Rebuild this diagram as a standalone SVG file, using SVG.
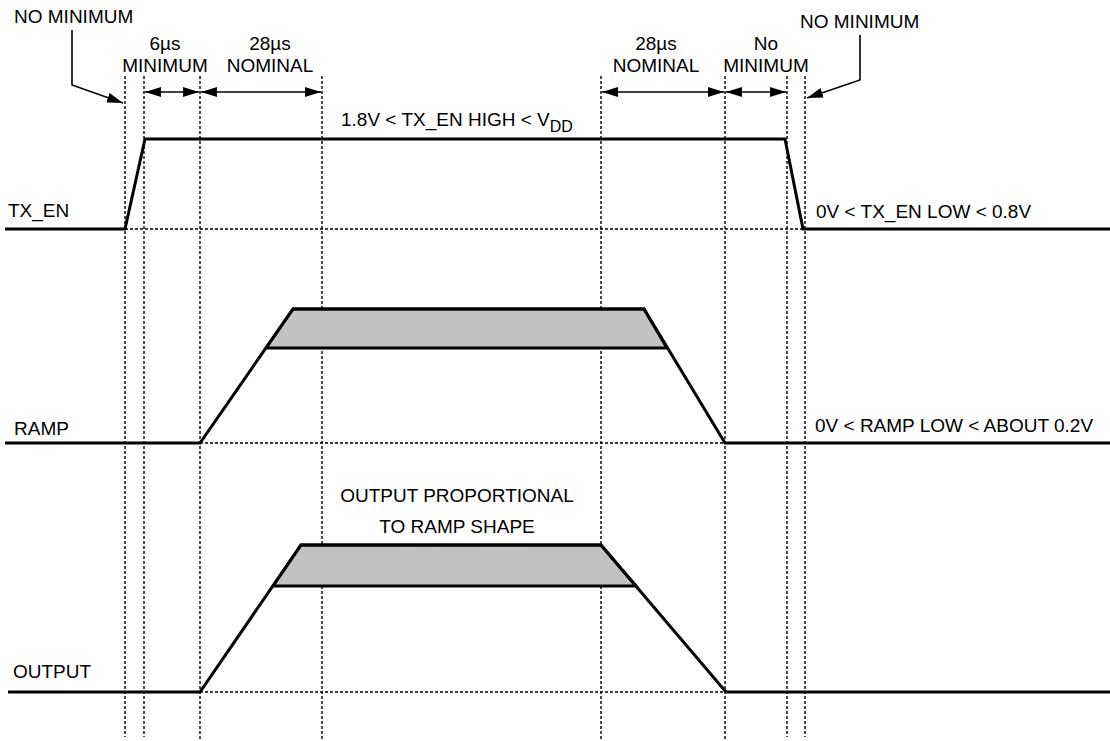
<svg xmlns="http://www.w3.org/2000/svg" width="1110" height="741" viewBox="0 0 1110 741">
<defs>
<marker id="ah" markerUnits="userSpaceOnUse" markerWidth="16" markerHeight="10" refX="16" refY="5" orient="auto-start-reverse">
<path d="M0,0 L16,5 L0,10 z" fill="#000"/>
</marker>
<style>
text{font-family:"Liberation Sans",Arial,Helvetica,sans-serif;font-size:19px;fill:#000}
.c{text-anchor:middle}
.grid{stroke:#000;stroke-width:1.4;stroke-dasharray:3 2;fill:none}
.wave{stroke:#000;stroke-width:3;fill:none;stroke-linejoin:miter}
.band{fill:#c2c2c2;stroke:#000;stroke-width:3}
.dim{stroke:#000;stroke-width:1.6;fill:none;marker-start:url(#ah);marker-end:url(#ah)}
.lead{stroke:#000;stroke-width:1.6;fill:none;marker-end:url(#ah)}
</style>
</defs>
<rect width="1110" height="741" fill="#fff"/>

<g id="grid">
<line class="grid" x1="125" y1="76" x2="125" y2="737"/>
<line class="grid" x1="144" y1="76" x2="144" y2="737"/>
<line class="grid" x1="200" y1="76" x2="200" y2="741"/>
<line class="grid" x1="322" y1="76" x2="322" y2="741"/>
<line class="grid" x1="601" y1="76" x2="601" y2="741"/>
<line class="grid" x1="725" y1="76" x2="725" y2="741"/>
<line class="grid" x1="787" y1="76" x2="787" y2="737"/>
<line class="grid" x1="805" y1="76" x2="805" y2="737"/>
<line class="grid" x1="125" y1="229" x2="803" y2="229"/>
<line class="grid" x1="200" y1="443" x2="725" y2="443"/>
<line class="grid" x1="200" y1="692" x2="725" y2="692"/>
</g>

<g id="tx_en">
<polyline class="wave" points="5,229 125,229 145,139 785,139 803,229 1110,229"/>
<text x="8" y="217">TX_EN</text>
<text x="341" y="126">1.8V &lt; TX_EN HIGH &lt; V<tspan dy="6" font-size="16">DD</tspan></text>
<text x="816" y="218">0V &lt; TX_EN LOW &lt; 0.8V</text>
</g>

<g id="ramp">
<polygon class="band" points="266,348 293,309 644,309 667,348"/>
<polyline class="wave" points="5,443 200,443 293,309 644,309 725,443 1110,443"/>
<text x="14" y="435">RAMP</text>
<text x="815" y="432">0V &lt; RAMP LOW &lt; ABOUT 0.2V</text>
</g>

<g id="output">
<polygon class="band" points="273,586 301,545 601,545 636,586"/>
<polyline class="wave" points="8,692 200,692 301,545 601,545 726,692 1110,692"/>
<text x="13" y="678">OUTPUT</text>
<text class="c" x="457" y="502">OUTPUT PROPORTIONAL</text>
<text class="c" x="457" y="533">TO RAMP SHAPE</text>
</g>

<g id="labels">
<text x="14" y="23">NO MINIMUM</text>
<text class="c" x="165" y="50">6µs</text>
<text class="c" x="165" y="72">MINIMUM</text>
<text class="c" x="270" y="50">28µs</text>
<text class="c" x="270" y="72">NOMINAL</text>
<text class="c" x="656" y="50">28µs</text>
<text class="c" x="656" y="72">NOMINAL</text>
<text class="c" x="766" y="50">No</text>
<text class="c" x="766" y="72">MINIMUM</text>
<text x="800" y="28">NO MINIMUM</text>
</g>

<g id="connectors">
<line class="dim" x1="145" y1="92" x2="199" y2="92"/>
<line class="dim" x1="201" y1="92" x2="321" y2="92"/>
<line class="dim" x1="602" y1="92" x2="724" y2="92"/>
<line class="dim" x1="726" y1="92" x2="786" y2="92"/>
<polyline class="lead" points="72,30 72,85 123,103"/>
<polyline class="lead" points="860,35 860,80 807,98"/>
</g>
</svg>
